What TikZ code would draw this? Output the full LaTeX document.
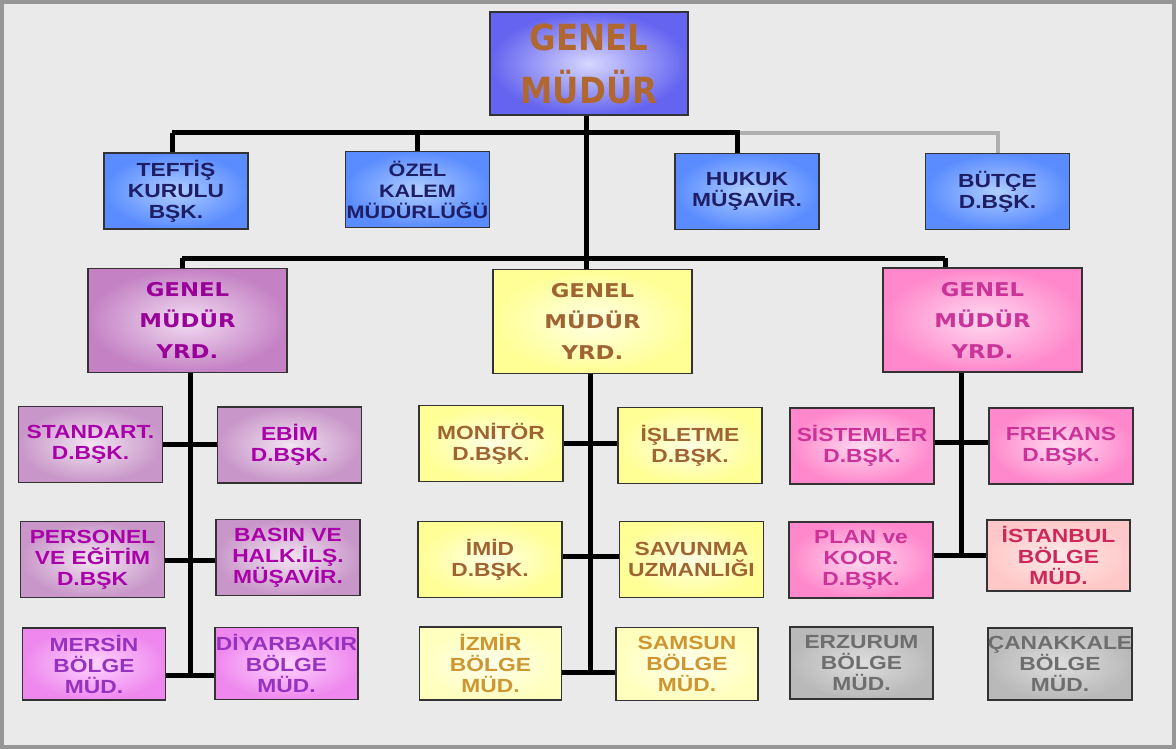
\documentclass[tikz,border=0pt]{standalone}
\usepackage{fontspec}
\newfontfamily\bxfont{Liberation Sans}[FakeStretch=1.2]
\newfontfamily\gmfont{DejaVu Sans}[FakeStretch=1.2]
\newfontfamily\topfont{DejaVu Sans}[FakeStretch=0.9]
\pgfdeclarelayer{back}
\pgfdeclarelayer{bg}
\pgfsetlayers{back,bg,main}
\definecolor{bgcol}{RGB}{234,234,234}
\definecolor{framecol}{RGB}{150,150,150}
\definecolor{topout}{RGB}{100,100,240}
\definecolor{topin}{RGB}{215,215,255}
\definecolor{toptext}{RGB}{176,104,48}
\definecolor{blueout}{RGB}{90,140,255}
\definecolor{bluein}{RGB}{175,205,255}
\definecolor{bluetext}{RGB}{30,30,100}
\definecolor{purout}{RGB}{196,130,196}
\definecolor{purin}{RGB}{242,220,242}
\definecolor{purtext}{RGB}{153,0,153}
\definecolor{spurout}{RGB}{200,150,200}
\definecolor{spurin}{RGB}{242,228,242}
\definecolor{spurtext}{RGB}{170,0,170}
\definecolor{magout}{RGB}{238,136,238}
\definecolor{magin}{RGB}{255,212,255}
\definecolor{magtext}{RGB}{150,50,190}
\definecolor{yelout}{RGB}{255,255,150}
\definecolor{yelin}{RGB}{255,255,228}
\definecolor{yeltext}{RGB}{160,100,50}
\definecolor{lyelout}{RGB}{255,255,190}
\definecolor{lyelin}{RGB}{255,255,238}
\definecolor{lyeltext}{RGB}{205,150,50}
\definecolor{pinkout}{RGB}{255,136,204}
\definecolor{pinkin}{RGB}{255,218,240}
\definecolor{pinktext}{RGB}{204,51,153}
\definecolor{istout}{RGB}{255,200,200}
\definecolor{istin}{RGB}{255,234,234}
\definecolor{isttext}{RGB}{204,40,90}
\definecolor{grayout}{RGB}{185,185,185}
\definecolor{grayin}{RGB}{222,222,222}
\definecolor{graytext}{RGB}{110,110,110}
\definecolor{conngray}{RGB}{175,175,175}
\begin{document}
\begin{tikzpicture}[x=1pt,y=-1pt,
  bx/.style={draw=black!80, line width=1.5pt, rectangle, inner sep=0pt, align=center,
    minimum width=144pt, minimum height=76pt,
    font=\bxfont\bfseries\fontsize{19}{21}\selectfont},
  topbox/.style={bx, inner color=topin, outer color=topout, text=toptext,
    minimum width=198pt, minimum height=103pt,
    font=\topfont\bfseries\fontsize{36}{53}\selectfont},
  gmybox/.style={bx, minimum width=199pt, minimum height=104pt,
    font=\gmfont\bfseries\fontsize{19}{31}\selectfont},
  bluebox/.style={bx, inner color=bluein, outer color=blueout, text=bluetext},
  purbox/.style={bx, inner color=spurin, outer color=spurout, text=spurtext},
  magbox/.style={bx, inner color=magin, outer color=magout, text=magtext, minimum width=143pt, minimum height=72pt},
  yelbox/.style={bx, inner color=yelin, outer color=yelout, text=yeltext},
  lyelbox/.style={bx, inner color=lyelin, outer color=lyelout, text=lyeltext, minimum width=142pt, minimum height=73pt},
  pinkbox/.style={bx, inner color=pinkin, outer color=pinkout, text=pinktext},
  istbox/.style={bx, inner color=istin, outer color=istout, text=isttext, minimum width=143pt, minimum height=71pt},
  graybox/.style={bx, inner color=grayin, outer color=grayout, text=graytext, minimum width=143pt, minimum height=72pt},
  conn/.style={draw=black, line width=5pt},
  conng/.style={draw=conngray, line width=4pt}
]
\useasboundingbox (0,0) rectangle (1176,749);
\begin{pgfonlayer}{back}
  \fill[bgcol] (0,0) rectangle (1176,749);
  \draw[framecol, line width=4pt] (2,2) rectangle (1174,747);
\end{pgfonlayer}

% top
\node[topbox] (gm) at (589,63.5) {GENEL\\MÜDÜR};

% second row
\node[bluebox] (teftis) at (176,191) {TEFTİŞ\\KURULU\\BŞK.};
\node[bluebox, font=\bxfont\bfseries\fontsize{18}{21}\selectfont] (ozel) at (417.5,189.5) {ÖZEL\\KALEM\\MÜDÜRLÜĞÜ};
\node[bluebox] (hukuk) at (747,191.5) {HUKUK\\MÜŞAVİR.};
\node[bluebox] (butce) at (997.5,191.5) {BÜTÇE\\D.BŞK.};

% deputies
\node[gmybox, inner color=purin, outer color=purout, text=purtext] (gmyL) at (187.5,320.5) {GENEL\\MÜDÜR\\YRD.};
\node[gmybox, inner color=yelin, outer color=yelout, text=yeltext] (gmyM) at (592.5,321.5) {GENEL\\MÜDÜR\\YRD.};
\node[gmybox, inner color=pinkin, outer color=pinkout, text=pinktext] (gmyR) at (982.5,320) {GENEL\\MÜDÜR\\YRD.};

% left column
\node[purbox] (standart) at (90.5,444.5) {STANDART.\\D.BŞK.};
\node[purbox] (ebim) at (289.5,445) {EBİM\\D.BŞK.};
\node[purbox] (personel) at (92.5,559.5) {PERSONEL\\VE EĞİTİM\\D.BŞK};
\node[purbox] (basin) at (288,557.5) {BASIN VE\\HALK.İLŞ.\\MÜŞAVİR.};
\node[magbox] (mersin) at (94,664) {MERSİN\\BÖLGE\\MÜD.};
\node[magbox] (diyar) at (286.5,663.5) {DİYARBAKIR\\BÖLGE\\MÜD.};

% middle column
\node[yelbox] (monitor) at (491,443.5) {MONİTÖR\\D.BŞK.};
\node[yelbox] (isletme) at (690,445.5) {İŞLETME\\D.BŞK.};
\node[yelbox] (imid) at (490,559.5) {İMİD\\D.BŞK.};
\node[yelbox] (savunma) at (691.5,559.5) {SAVUNMA\\UZMANLIĞI};
\node[lyelbox] (izmir) at (490.5,663.5) {İZMİR\\BÖLGE\\MÜD.};
\node[lyelbox] (samsun) at (687,664) {SAMSUN\\BÖLGE\\MÜD.};

% right column
\node[pinkbox] (sistemler) at (862,446) {SİSTEMLER\\D.BŞK.};
\node[pinkbox] (frekans) at (1061,446) {FREKANS\\D.BŞK.};
\node[pinkbox] (plan) at (861,560) {PLAN ve\\KOOR.\\D.BŞK.};
\node[istbox] (istanbul) at (1058.5,555.5) {İSTANBUL\\BÖLGE\\MÜD.};
\node[graybox] (erzurum) at (861.5,663) {ERZURUM\\BÖLGE\\MÜD.};
\node[graybox] (canakkale) at (1060,664) {ÇANAKKALE\\BÖLGE\\MÜD.};

\begin{pgfonlayer}{bg}
  \coordinate (tL) at (172,133);
  \coordinate (tJ) at (737,133);
  \coordinate (tR) at (998,133);
  \coordinate (mbus) at (586,258);
  \coordinate (sL) at (182,258);
  \coordinate (sR) at (945,258);
  \coordinate (lE) at (190,675);
  \coordinate (mE) at (590,672);
  \coordinate (rE) at (961,555);
  % top bus
  \draw[conn] (gm.south -| mbus) -- (mbus);
  \draw[conng] (tJ) -- (tR) -- (tR |- butce.north);
  \draw[conn] (tL) -- (tJ);
  \draw[conn] (tL) -- (tL |- teftis.north);
  \draw[conn] (ozel.north) -- (ozel.north |- tL);
  \draw[conn] (tJ |- hukuk.north) -- ([yshift=2.5pt]tJ);
  % second bus
  \draw[conn] (sL) -- (sR);
  \draw[conn] (sL) -- (sL |- gmyL.north);
  \draw[conn] (mbus) -- (mbus |- gmyM.north);
  \draw[conn] (sR) -- (sR |- gmyR.north);
  % left spine
  \draw[conn] (gmyL.south -| lE) -- ([yshift=2.5pt]lE);
  \draw[conn] (standart.east |- 0,444) -- (ebim.west |- 0,444);
  \draw[conn] (personel.east |- 0,560) -- (basin.west |- 0,560);
  \draw[conn] (mersin.east |- lE) -- (diyar.west |- lE);
  % middle spine
  \draw[conn] (gmyM.south -| mE) -- ([yshift=2.5pt]mE);
  \draw[conn] (monitor.east |- 0,443) -- (isletme.west |- 0,443);
  \draw[conn] (imid.east |- 0,556) -- (savunma.west |- 0,556);
  \draw[conn] (izmir.east |- mE) -- (samsun.west |- mE);
  % right spine
  \draw[conn] (gmyR.south -| rE) -- ([yshift=2.5pt]rE);
  \draw[conn] (sistemler.east |- 0,442) -- (frekans.west |- 0,442);
  \draw[conn] (plan.east |- rE) -- (istanbul.west |- rE);
\end{pgfonlayer}
\end{tikzpicture}
\end{document}
